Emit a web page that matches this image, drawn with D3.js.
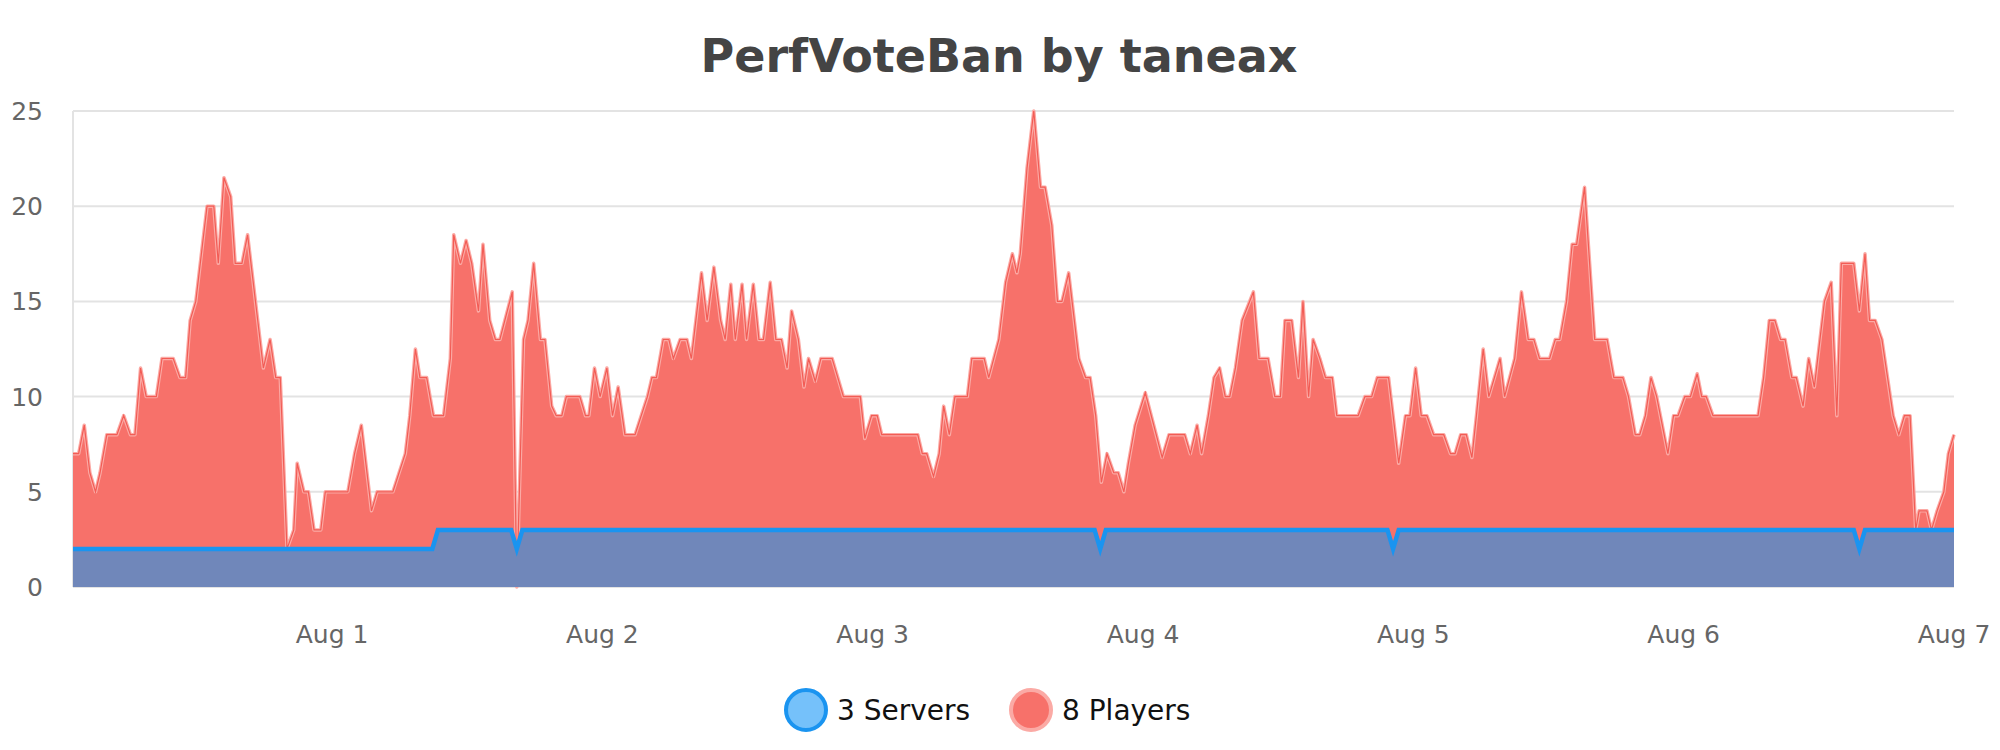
<!DOCTYPE html>
<html>
<head>
<meta charset="utf-8">
<script src="https://cdn.jsdelivr.net/npm/d3@7/dist/d3.min.js"></script>
<style>
  body { margin: 0; background: #fff; }
  svg { font-family: "DejaVu Sans", sans-serif; }
</style>
</head>
<body>
<svg id="chart" width="2000" height="750"></svg>
<script>
// hours since Jul 31 01:00
var start = new Date(2023, 6, 31, 1, 0);
var dayTicks = [1, 2, 3, 4, 5, 6, 7];

var playerHours = [0,0.5,1,1.5,2,2.4,3,3.9,4.5,5.1,5.5,6,6.5,7.4,7.9,8.9,9.5,10,10.4,10.9,11.5,11.9,12.5,12.9,13.4,14,14.4,15,15.5,16.9,17.5,18,18.4,19,19.6,19.9,20.5,20.9,21.4,22,22.4,24.4,25,25.6,26.5,27,
  28.4,29.5,29.9,30.4,30.8,31.4,32,32.9,33.5,33.8,34.4,34.9,35.4,36,36.4,37,37.5,37.9,39,39.4,40,40.4,40.9,41.5,41.9,42.5,42.9,43.4,43.8,45,45.5,45.8,46.3,46.8,47.4,47.9,48.4,49,49.9,51,51.4,51.8,52.4,52.9,53.3,53.9,54.5,54.9,55.8,
  56.3,56.9,57.5,57.9,58.4,58.8,59.4,59.8,60.4,60.9,61.3,61.9,62.4,62.9,63.4,63.8,64.4,64.9,65.3,65.9,66.4,67.4,68.4,69.9,70.3,70.9,71.4,71.8,75,75.4,75.8,76.4,76.9,77.3,77.8,78.3,79.4,79.8,80.9,81.3,82.2,82.8,83.4,83.8,
  84.1,84.7,85.3,85.9,86.3,86.9,87.4,87.8,88.4,89.3,89.9,90.3,90.8,91.3,91.8,92.4,92.8,93.3,93.7,94.3,95.2,96.7,97.3,98.7,99.2,99.8,100.2,100.8,101.3,101.8,102.3,102.7,103.2,103.8,104.8,105.3,106.1,106.7,107.2,107.6,108.2,108.8,109.2,109.7,110.1,110.7,111.2,111.8,112.2,
  114.1,114.7,115.3,115.8,116.8,117.7,118.3,118.7,119.2,119.7,120.2,120.8,121.7,122.3,122.7,123.2,123.7,124.2,124.6,125.2,125.7,126.7,127.1,128,128.6,129.2,129.7,130.2,131.1,131.6,132,132.6,133.1,133.5,134.2,135.1,136.2,136.8,137.6,138.1,138.7,139.1,139.6,140.1,140.6,
  141.6,142.1,142.5,143.1,143.6,144.2,144.6,145,145.6,149.6,150.1,150.6,151.1,151.6,152,152.6,153,153.6,154.1,154.6,155.5,156.1,156.6,157,158.1,158.6,159.1,159.5,160,160.6,161.6,162.1,162.6,163.1,163.6,163.9,164.6,165,165.5,166.1,166.5,167];
var playerValues = [7,7,8.5,6,5,6,8,8,9,8,8,11.5,10,10,12,12,11,11,14,15,18,20,20,17,21.5,20.5,17,17,18.5,11.5,13,11,11,2,3,6.5,5,5,3,3,5,5,7,8.5,4,5,
  5,7,9,12.5,11,11,9,9,12,18.5,17,18.2,17,14.5,18,14,13,13,15.5,0,13,14,17,13,13,9.5,9,9,10,10,9,9,11.5,10,11.5,9,10.5,8,8,10,11,11,13,13,12,13,13,12,16.5,
  14,16.8,14,13,15.9,13,15.9,13,15.9,13,13,16,13,13,11.5,14.5,13,10.5,12,10.8,12,12,10,10,7.8,9,9,8,8,7,7,5.8,7,9.5,8,10,10,12,12,11,13,16,17.5,16.5,
  17.5,22,25,21,21,19,15,15,16.5,12,11,11,9,5.5,7,6,6,5,6.5,8.5,10.2,6.8,8,8,7,8.5,7,9,11,11.5,10,10,11.5,14,15.5,12,12,10,10,14,14,11,15,10,13,12,11,11,9,
  9,10,10,11,11,6.5,9,9,11.5,9,9,8,8,7,7,8,8,6.8,9,12.5,10,12,10,12,15.5,13,13,12,12,13,13,15,18,18,21,13,13,11,11,10,8,8,9,11,10,
  7,9,9,10,10,11.2,10,10,9,9,11,14,14,13,13,11,11,9.5,12,10.5,15,16,9,17,17,14.5,17.5,14,14,13,9,8,9,9,3,4,4,3,4,5,7,8];

var serverHours = [0,31.9,32.4,38.9,39.4,39.9,90.7,91.2,91.7,116.7,117.2,117.7,158.1,158.6,159.1,167];
var serverValues = [2,2,3,3,2,3,3,2,3,3,2,3,3,2,3,3];

var yTicks = [0, 5, 10, 15, 20, 25];

var svg = d3.select('#chart');
var plotLeft = 73, plotRight = 1954, plotTop = 111, plotBottom = 587;

var toDate = function(h) { return new Date(start.getTime() + h * 3600000); };
var x = d3.scaleTime().domain([toDate(0), toDate(167)]).range([plotLeft, plotRight]);
var y = d3.scaleLinear().domain([0, 25]).range([plotBottom, plotTop]);

var players = playerHours.map(function(h, i) { return {t: toDate(h), v: playerValues[i]}; })
    .filter(function(d) { return d.v !== undefined; });
var servers = serverHours.map(function(h, i) { return {t: toDate(h), v: serverValues[i]}; });

// grid
svg.append('g').selectAll('line').data(yTicks).enter().append('line')
    .attr('x1', plotLeft).attr('x2', plotRight)
    .attr('y1', function(d) { return y(d); }).attr('y2', function(d) { return y(d); })
    .style('stroke', '#e3e3e3').style('stroke-width', 2);
svg.append('line').attr('x1', plotLeft).attr('x2', plotLeft).attr('y1', plotTop).attr('y2', plotBottom)
    .style('stroke', '#e3e3e3').style('stroke-width', 2);

svg.append('g').selectAll('text').data(yTicks).enter().append('text')
    .attr('x', plotLeft - 30).attr('y', function(d) { return y(d) + 9; })
    .attr('text-anchor', 'end')
    .style('font-size', '25px').style('fill', '#666')
    .text(function(d) { return d; });

var xTickDates = dayTicks.map(function(d) { return new Date(2023, 7, d); });
var fmt = d3.timeFormat('%b %-d');
svg.append('g').selectAll('text').data(xTickDates).enter().append('text')
    .attr('x', function(d) { return x(d); }).attr('y', 643)
    .attr('text-anchor', 'middle')
    .style('font-size', '25px').style('fill', '#666')
    .text(function(d) { return fmt(d); });

var area = d3.area().x(function(d) { return x(d.t); }).y0(plotBottom).y1(function(d) { return y(d.v); });
var line = d3.line().x(function(d) { return x(d.t); }).y(function(d) { return y(d.v); });

svg.append('path').datum(players).attr('d', area).style('fill', '#f7716a');
svg.append('path').datum(players).attr('d', line)
    .style('fill', 'none').style('stroke', '#fbaaa5').style('stroke-width', 3.5).style('stroke-linejoin', 'round');
svg.append('path').datum(players).attr('d', line)
    .style('fill', 'none').style('stroke', '#f25c55').style('stroke-width', 1.2);

svg.append('path').datum(servers).attr('d', area).style('fill', '#7087ba');
svg.append('path').datum(servers).attr('d', line)
    .style('fill', 'none').style('stroke', '#1a94f0').style('stroke-width', 4.5);

// title
svg.append('text').attr('x', 999).attr('y', 72).attr('text-anchor', 'middle')
    .style('font-size', '46px').style('font-weight', 'bold').style('fill', '#444')
    .text('PerfVoteBan by taneax');

// legend
var legend = [
    {label: '3 Servers', fill: '#75c1fa', stroke: '#1a94f0', cx: 806},
    {label: '8 Players', fill: '#f7716a', stroke: '#fbaaa5', cx: 1031}
];
var lg = svg.append('g').selectAll('g').data(legend).enter().append('g')
    .attr('transform', function(d) { return 'translate(' + d.cx + ',710)'; });
lg.append('circle').attr('r', 20)
    .style('fill', function(d) { return d.fill; })
    .style('stroke', function(d) { return d.stroke; }).style('stroke-width', 4);
lg.append('text').attr('x', 31).attr('y', 10)
    .style('font-size', '28px').style('fill', '#111')
    .text(function(d) { return d.label; });
</script>
</body>
</html>
